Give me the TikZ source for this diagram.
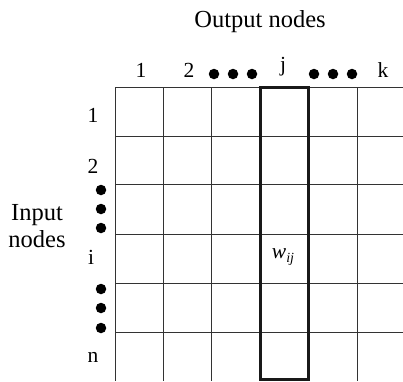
\documentclass[tikz,border=0pt]{standalone}
\usepackage{fontspec}
\setmainfont{Liberation Serif}
\begin{document}
\begin{tikzpicture}[x=1pt,y=-1pt,
  gridline/.style={line width=1pt,black!80},
  boldbox/.style={line width=3pt,black!90},
  title/.style={font=\fontsize{24.5}{27}\selectfont,inner sep=0pt},
  idx/.style={font=\fontsize{21.5}{23}\selectfont,inner sep=0pt},
  dotmark/.style={circle,fill=black,inner sep=0pt,minimum size=10.5pt}]
\useasboundingbox (0,0) rectangle (403,381);
% grid
\foreach \y in {87,136,184,234,283,332} \draw[gridline] (115,\y) -- (403,\y);
\foreach \x in {115,163,211,260,308,357} \draw[gridline] (\x,87) -- (\x,381);
% bold column
\draw[boldbox] (260,87) rectangle (308,379);
% titles
\node[title] (out) at (260,22) {Output nodes};
\node[title,align=center] (in) at (37,226) {Input\\nodes};
% column labels
\node[idx] (c1) at (141,70) {1};
\node[idx] (c2) at (189,70) {2};
\node[dotmark] (cd1) at (214,74) {};
\node[dotmark] (cd2) at (233,74) {};
\node[dotmark] (cd3) at (252,74) {};
\node[idx] (cj) at (283,67) {j};
\node[dotmark] (cd4) at (314,74) {};
\node[dotmark] (cd5) at (333,74) {};
\node[dotmark] (cd6) at (352,74) {};
\node[idx] (ck) at (383,70) {k};
% row labels
\node[idx] (r1) at (93,115) {1};
\node[idx] (r2) at (93,166) {2};
\node[dotmark] (rd1) at (101,190) {};
\node[dotmark] (rd2) at (101,209) {};
\node[dotmark] (rd3) at (101,228) {};
\node[idx] (ri) at (91,257) {i};
\node[dotmark] (rd4) at (101,289) {};
\node[dotmark] (rd5) at (101,308) {};
\node[dotmark] (rd6) at (101,328) {};
\node[idx] (rn) at (93,357) {n};
% weight
\node[idx] (w) at (283,257) {\textit{w}\raisebox{-0.45ex}{\fontsize{14}{15}\selectfont\textit{ij}}};
\end{tikzpicture}
\end{document}
